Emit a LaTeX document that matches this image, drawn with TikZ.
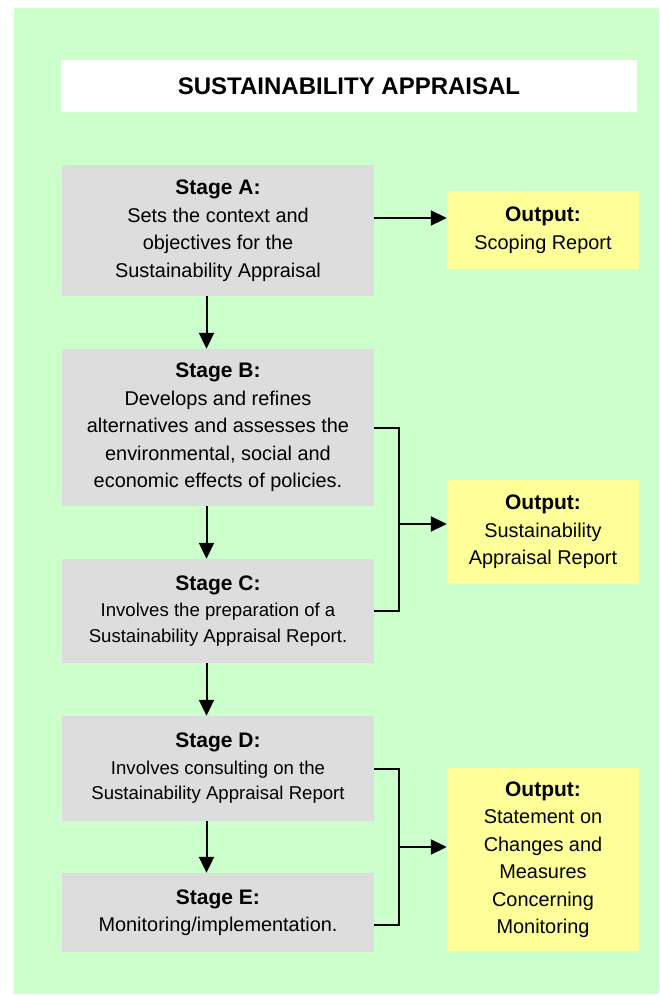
\documentclass[tikz,border=0pt]{standalone}
\usepackage{fontspec}
\setmainfont{Liberation Sans}
\usetikzlibrary{arrows.meta,calc}
\definecolor{bggreen}{HTML}{CCFFCC}
\definecolor{boxgray}{HTML}{DDDDDD}
\definecolor{outyellow}{HTML}{FFFF99}
\newcommand\stagehd[1]{{\fontsize{21}{27.5}\selectfont\bfseries #1}}
\begin{document}
\begin{tikzpicture}[x=1pt,y=-1pt,
  stagebox/.style={fill=boxgray, minimum width=312pt, inner sep=0pt, align=center, text=black,
    font=\fontsize{19.9}{27.5}\selectfont},
  smalltext/.style={font=\fontsize{18.6}{25.5}\selectfont},
  outbox/.style={fill=outyellow, minimum width=192pt, inner sep=0pt, align=center, text=black,
    font=\fontsize{19.9}{27.5}\selectfont},
  conn/.style={line width=2pt, black},
  arr/.style={conn, -{Triangle[length=16pt,width=15pt]}}]
\useasboundingbox (0,0) rectangle (660,995);
\fill[white] (0,0) rectangle (660,995);
\fill[bggreen] (14,8) rectangle (659,994);

\node[fill=white, minimum width=576pt, minimum height=52pt, inner sep=0pt,
  font=\fontsize{24}{28}\selectfont\bfseries] (T) at (349,86) {SUSTAINABILITY APPRAISAL};

\node[stagebox, minimum height=131pt] (A) at (218,230.5)
  {\stagehd{Stage A:}\\Sets the context and\\objectives for the\\Sustainability Appraisal};
\node[stagebox, minimum height=157pt] (B) at (218,427.5)
  {\stagehd{Stage B:}\\Develops and refines\\alternatives and assesses the\\environmental, social and\\economic effects of policies.};
\node[stagebox, smalltext, minimum height=104pt] (C) at (218,611)
  {\stagehd{Stage C:}\\[1pt]Involves the preparation of a\\Sustainability Appraisal Report.};
\node[stagebox, smalltext, minimum height=105pt] (D) at (218,768.5)
  {\stagehd{Stage D:}\\[1pt]Involves consulting on the\\Sustainability Appraisal Report};
\node[stagebox, minimum height=79pt] (E) at (218,912.5)
  {\stagehd{Stage E:}\\Monitoring/implementation.};

\node[outbox, minimum height=78pt] (OA) at (543,230)
  {\stagehd{Output:}\\Scoping Report};
\node[outbox, minimum height=104pt] (OB) at (543,532)
  {\stagehd{Output:}\\Sustainability\\Appraisal Report};
\node[outbox, minimum height=183pt] (OC) at (543,859.5)
  {\stagehd{Output:}\\Statement on\\Changes and\\Measures\\Concerning\\Monitoring};

\coordinate (vx) at (206.5,0);
\coordinate (bx) at (399,0);
\coordinate (ya) at (0,218);
\coordinate (yb) at (0,524);
\coordinate (yc) at (0,847);
\coordinate (ye) at (0,925);

\draw[arr] (A.south -| vx) -- (B.north -| vx);
\draw[arr] (B.south -| vx) -- (C.north -| vx);
\draw[arr] (C.south -| vx) -- (D.north -| vx);
\draw[arr] (D.south -| vx) -- (E.north -| vx);

\draw[arr] (A.east |- ya) -- (OA.west |- ya);

\draw[conn] (B.east) -- (B.east -| bx) -- (C.east -| bx) -- (C.east);
\draw[arr] (bx |- yb) -- (OB.west |- yb);

\draw[conn] (D.east) -- (D.east -| bx) -- (bx |- ye) -- (E.east |- ye);
\draw[arr] (bx |- yc) -- (OC.west |- yc);
\end{tikzpicture}
\end{document}
